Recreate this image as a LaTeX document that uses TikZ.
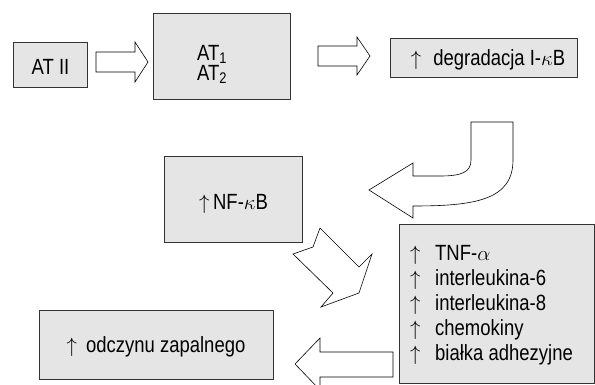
\documentclass[tikz,border=0pt]{standalone}
\usepackage{fontspec}
\setmainfont{Liberation Sans}[FakeStretch=0.84]
\begin{document}
\begin{tikzpicture}[x=1pt,y=-1pt,
  box/.style={draw=black!80,fill=black!10,line width=0.8pt,inner sep=0pt},
  txt/.style={inner sep=0pt,anchor=base,font=\fontsize{22}{24}\selectfont},
  ltxt/.style={inner sep=0pt,anchor=base west,font=\fontsize{22}{24}\selectfont},
  blockarrow/.style={draw=black,fill=white,line width=0.6pt,line join=miter}]
\useasboundingbox (0,0) rectangle (595,384);
% boxes
\node[box,minimum width=74pt,minimum height=45pt] (atii) at (50,64.5) {};
\node[box,minimum width=137pt,minimum height=86pt] (at12) at (221.5,56) {};
\node[box,minimum width=187pt,minimum height=39pt] (deg) at (483.5,57.5) {};
\node[box,minimum width=138pt,minimum height=86pt] (nfkb) at (233,199) {};
\node[box,minimum width=195pt,minimum height=159pt] (list) at (496.5,303.5) {};
\node[box,minimum width=234pt,minimum height=69pt] (odcz) at (156,344.5) {};
% texts
\node[txt] (tatii) at (50.5,74) {AT II};
\node[inner sep=0pt,anchor=base west,align=left,font=\fontsize{22}{17.5}\selectfont] (tat12) at (197,80) {AT\textsubscript{1}\\AT\textsubscript{2}};
\node[txt] (tdeg) at (488,65.5) {$\uparrow$\hspace{7pt} degradacja I-$\kappa$B};
\node[txt] (tnf) at (233.5,209) {$\uparrow$\,NF-$\kappa$B};
\node[txt] (todcz) at (156,352) {$\uparrow$\hspace{4pt} odczynu zapalnego};
\foreach \t [count=\i] in {TNF-$\alpha$,interleukina-6,interleukina-8,chemokiny,białka adhezyjne}
  \node[ltxt] (l\i) at (410,{260+25.2*(\i-1)}) {\makebox[25pt][l]{$\uparrow$}\t};
% block arrows
\draw[blockarrow] (96,52) -- (135,52) -- (135,42) -- (148,62) -- (135,82) -- (135,72) -- (96,72) -- cycle;
\draw[blockarrow] (318,46) -- (357,46) -- (357,37) -- (370,56) -- (357,75) -- (357,66) -- (318,66) -- cycle;
\draw[blockarrow] (471,122) -- (513,122) -- (513,160) .. controls (513,200) and (475,206) .. (413,206)
  -- (413,218) -- (369,190) -- (413,163) -- (413,176) -- (440,176)
  .. controls (462,176) and (471,172) .. (471,160) -- cycle;
\draw[blockarrow] (320,228) -- (313,247) -- (293,254) -- (333,293) -- (321,307) -- (359,293) -- (372,254) -- (359,267) -- cycle;
\begin{scope}
\clip (0,0) rectangle (595,384);
\draw[blockarrow] (393,352) -- (320,352) -- (320,338) -- (295,364) -- (320,390) -- (320,377) -- (393,377) -- cycle;
\end{scope}
\end{tikzpicture}
\end{document}
